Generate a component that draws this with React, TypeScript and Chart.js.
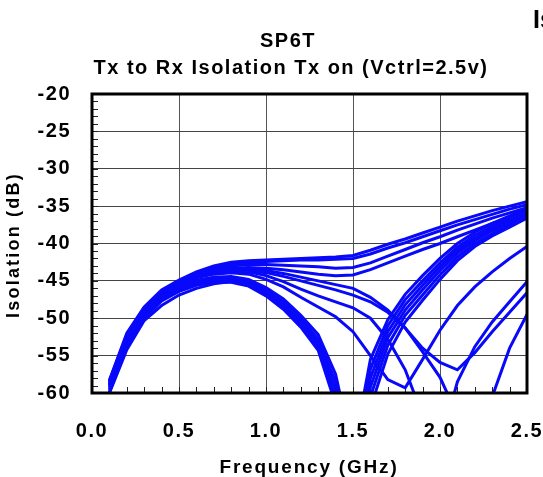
import React, { useEffect, useRef } from "react";
import { Chart, registerables } from "chart.js";

Chart.register(...registerables);

// Frequency points (GHz)
const frequencies = [
  0.1, 0.2, 0.3, 0.4, 0.5, 0.6, 0.7, 0.8, 0.9, 1.0, 1.1, 1.2, 1.3,
  1.4, 1.5, 1.6, 1.7, 1.8, 1.9, 2.0, 2.1, 2.2, 2.3, 2.4, 2.5,
];

const xTickValues = [0, 0.5, 1.0, 1.5, 2.0, 2.5];
const yTickValues = [-60, -55, -50, -45, -40, -35, -30, -25, -20];

// Flat-top traces
const isoA1 = [-58.3, -52.0, -48.5, -46.2, -44.9, -43.8, -43.0, -42.5, -42.3, -42.2, -42.1, -42.0, -41.9, -41.8, -41.6, -40.9, -40.1, -39.4, -38.6, -37.8, -37.0, -36.3, -35.6, -35.0, -34.4];
const isoA2 = [-58.6, -52.3, -48.7, -46.4, -45.1, -44.0, -43.2, -42.7, -42.5, -42.4, -42.3, -42.2, -42.2, -42.1, -42.0, -41.4, -40.6, -39.9, -39.1, -38.3, -37.5, -36.8, -36.1, -35.4, -34.8];
const isoA3 = [-58.9, -52.6, -49.0, -46.6, -45.3, -44.2, -43.5, -43.0, -42.8, -42.8, -42.9, -43.0, -43.1, -43.3, -43.2, -42.6, -41.7, -40.8, -39.9, -39.1, -38.2, -37.4, -36.6, -35.9, -35.2];
const isoA4 = [-59.2, -52.9, -49.2, -46.8, -45.5, -44.4, -43.7, -43.3, -43.2, -43.3, -43.5, -43.8, -44.1, -44.3, -44.2, -43.5, -42.6, -41.7, -40.8, -40.0, -39.1, -38.2, -37.3, -36.6, -35.9];

// Traces with a deep notch near 1.45-1.55 GHz
const isoP1 = [-59.0, -53.0, -49.2, -47.0, -45.7, -44.9, -44.5, -44.4, -44.8, -45.9, -47.4, -49.6, -52.2, -57.5, -68.0, -55.5, -50.2, -46.8, -44.3, -42.0, -40.0, -38.5, -37.3, -36.3, -35.3];
const isoP2 = [-59.3, -53.3, -49.4, -47.1, -45.8, -45.0, -44.6, -44.6, -45.0, -46.2, -47.8, -50.0, -52.8, -58.5, -70.0, -56.8, -51.0, -47.5, -45.0, -42.6, -40.5, -38.9, -37.7, -36.6, -35.6];
const isoP3 = [-59.5, -53.5, -49.6, -47.3, -46.0, -45.2, -44.8, -44.8, -45.3, -46.5, -48.1, -50.4, -53.3, -59.5, -72.0, -58.0, -51.8, -48.2, -45.6, -43.1, -40.9, -39.3, -38.0, -36.9, -35.9];
const isoP4 = [-59.7, -53.7, -49.8, -47.5, -46.2, -45.4, -45.0, -45.0, -45.5, -46.8, -48.5, -50.8, -53.8, -60.5, -72.0, -59.2, -52.6, -48.9, -46.2, -43.6, -41.3, -39.6, -38.3, -37.2, -36.1];
const isoP5 = [-59.9, -53.9, -50.0, -47.7, -46.4, -45.6, -45.2, -45.2, -45.7, -47.0, -48.8, -51.2, -54.3, -61.5, -74.0, -60.5, -53.6, -49.6, -46.9, -44.2, -41.8, -40.0, -38.7, -37.5, -36.4];
const isoP6 = [-60.0, -54.2, -50.3, -48.3, -46.9, -46.0, -45.4, -45.1, -45.4, -46.6, -48.3, -50.7, -53.6, -61.0, -75.0, -62.0, -54.8, -50.5, -47.6, -44.8, -42.3, -40.4, -39.0, -37.8, -36.6];

// Traces with later notches
const isoN1 = [-59.0, -52.8, -49.0, -46.8, -45.5, -44.6, -44.1, -43.9, -44.1, -44.8, -45.8, -47.2, -48.5, -49.8, -51.8, -55.0, -58.2, -59.3, -55.5, -51.6, -48.3, -45.8, -43.8, -42.0, -40.4];
const isoN2 = [-58.8, -52.6, -48.8, -46.6, -45.3, -44.4, -43.9, -43.7, -43.8, -44.3, -45.1, -46.1, -47.0, -47.8, -48.6, -50.0, -52.8, -56.9, -63.0, -67.0, -58.5, -53.8, -50.5, -47.8, -45.1];
const isoN3 = [-58.6, -52.4, -48.7, -46.5, -45.2, -44.3, -43.8, -43.6, -43.6, -43.9, -44.4, -45.0, -45.6, -46.2, -46.9, -47.8, -49.2, -51.3, -54.0, -55.9, -56.9, -54.6, -51.8, -49.2, -46.6];
const isoN4 = [-58.4, -52.2, -48.6, -46.4, -45.1, -44.2, -43.6, -43.4, -43.4, -43.6, -44.0, -44.5, -45.0, -45.5, -46.0, -47.2, -48.9, -51.3, -54.5, -57.9, -63.0, -67.0, -60.5, -54.0, -49.5];

const allSeries = [
  isoA1, isoA2, isoA3, isoA4,
  isoP1, isoP2, isoP3, isoP4, isoP5, isoP6,
  isoN1, isoN2, isoN3, isoN4,
];

const FONT = '"Liberation Sans", Arial, Helvetica, sans-serif';
const LINE_COLOR = "rgb(8,8,250)";

export default function App() {
  const ref = useRef<HTMLCanvasElement>(null);

  useEffect(() => {
    const canvas = ref.current;
    if (!canvas) return;

    const decor = {
      id: "decor",
      beforeInit(chart: any) {
        chart.ctx.letterSpacing = "1.5px";
      },
      beforeDraw(chart: any) {
        chart.ctx.letterSpacing = "1.5px";
      },
      beforeDatasetsDraw(chart: any) {
        const { ctx, chartArea, scales } = chart;
        const xs = scales.x;
        const ys = scales.y;
        ctx.save();
        ctx.strokeStyle = "#222";
        ctx.lineWidth = 1;
        ctx.beginPath();
        for (let v = -60; v <= -20; v += 1) {
          const y = Math.round(ys.getPixelForValue(v)) + 0.5;
          ctx.moveTo(chartArea.left, y);
          ctx.lineTo(chartArea.left + 6, y);
        }
        for (let i = 0; i <= 25; i++) {
          const x = Math.round(xs.getPixelForValue(i / 10)) + 0.5;
          ctx.moveTo(x, chartArea.bottom);
          ctx.lineTo(x, chartArea.bottom - 6);
        }
        ctx.stroke();
        ctx.restore();
      },
      afterDatasetsDraw(chart: any) {
        const { ctx, chartArea } = chart;
        ctx.save();
        ctx.strokeStyle = "#000";
        ctx.lineWidth = 3;
        ctx.strokeRect(
          chartArea.left,
          chartArea.top,
          chartArea.right - chartArea.left,
          chartArea.bottom - chartArea.top
        );
        ctx.restore();
      },
      afterDraw(chart: any) {
        const { ctx } = chart;
        ctx.save();
        ctx.fillStyle = "#000";
        ctx.textBaseline = "alphabetic";
        ctx.textAlign = "center";
        ctx.letterSpacing = "1.5px";
        ctx.font = `bold 20px ${FONT}`;
        ctx.fillText("SP6T", 288, 47);
        ctx.fillText("Tx to Rx Isolation Tx on (Vctrl=2.5v)", 291, 74);
        ctx.letterSpacing = "1.8px";
        ctx.font = `bold 19px ${FONT}`;
        ctx.fillText("Frequency (GHz)", 309, 473);
        ctx.save();
        ctx.letterSpacing = "2.2px";
        ctx.font = `bold 18px ${FONT}`;
        ctx.translate(19, 245);
        ctx.rotate(-Math.PI / 2);
        ctx.fillText("Isolation (dB)", 0, 0);
        ctx.restore();
        ctx.textAlign = "left";
        ctx.letterSpacing = "0px";
        ctx.font = `bold 25px ${FONT}`;
        ctx.fillText("Isolation", 533, 28);
        ctx.restore();
      },
    };

    const chart = new Chart(canvas, {
      type: "line",
      data: {
        datasets: allSeries.map((s, k) => ({
          label: `trace ${k + 1}`,
          data: frequencies.map((f, i) => ({ x: f, y: s[i] })),
          borderColor: LINE_COLOR,
          borderWidth: 3,
          pointRadius: 0,
          tension: 0,
          fill: false,
          clip: 0,
        })),
      },
      options: {
        responsive: false,
        animation: false,
        events: [],
        layout: { padding: { left: 0, right: 0, top: 94, bottom: 0 } },
        plugins: {
          legend: { display: false },
          tooltip: { enabled: false },
          title: { display: false },
        },
        scales: {
          x: {
            type: "linear",
            min: 0,
            max: 2.5,
            afterBuildTicks: (s: any) => {
              s.ticks = xTickValues.map((v) => ({ value: v }));
            },
            afterFit: (s: any) => {
              s.height = 84;
              s.paddingRight = 16;
              s.paddingLeft = 0;
            },
            ticks: {
              color: "#000",
              font: { family: FONT, size: 20, weight: "bold" },
              padding: 26,
              maxRotation: 0,
              autoSkip: false,
              callback: (v: any) => Number(v).toFixed(1),
            },
            grid: { color: "#555", lineWidth: 1, drawTicks: false },
            border: { display: false },
          },
          y: {
            type: "linear",
            min: -60,
            max: -20,
            afterBuildTicks: (s: any) => {
              s.ticks = yTickValues.map((v) => ({ value: v }));
            },
            afterFit: (s: any) => {
              s.width = 92;
              s.paddingTop = 0;
              s.paddingBottom = 0;
            },
            ticks: {
              color: "#000",
              font: { family: FONT, size: 20, weight: "bold" },
              padding: 21,
              autoSkip: false,
              callback: (v: any) => String(v),
            },
            grid: { color: "#444", lineWidth: 1, drawTicks: false },
            border: { display: false },
          },
        },
      },
      plugins: [decor],
    } as any);

    return () => chart.destroy();
  }, []);

  return (
    <div style={{ position: "absolute", left: 0, top: 0, width: 543, height: 477 }}>
      <canvas ref={ref} width={543} height={477} style={{ display: "block", width: 543, height: 477 }} />
    </div>
  );
}
